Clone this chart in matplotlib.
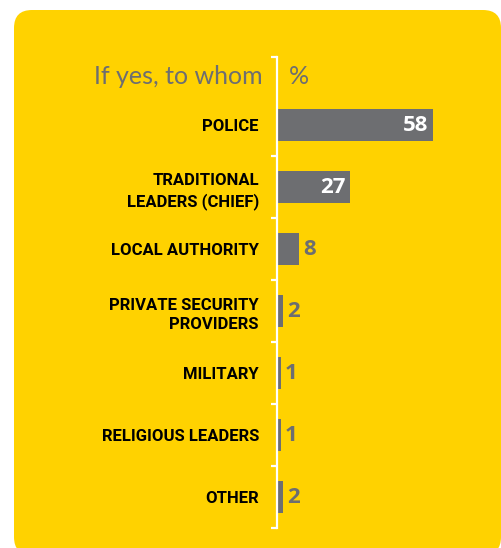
import matplotlib.pyplot as plt
from matplotlib.patches import FancyBboxPatch
import numpy as np

categories = ["POLICE", "TRADITIONAL\nLEADERS (CHIEF)", "LOCAL AUTHORITY",
              "PRIVATE SECURITY\nPROVIDERS", "MILITARY", "RELIGIOUS LEADERS", "OTHER"]
values = [58, 27, 8, 2, 1, 1, 2]
header_left = "If yes, to whom"
header_right = "%"

yellow = "#ffd200"
grey = "#6d6e71"
W, H = 501, 548

fig = plt.figure(figsize=(W / 100, H / 100), dpi=100)
fig.patch.set_facecolor("white")

# rounded yellow panel, drawn in pixel coordinates
bg = fig.add_axes([0, 0, 1, 1])
bg.set_xlim(0, W)
bg.set_ylim(H, 0)
bg.axis("off")
bg.add_patch(FancyBboxPatch((14, 10), 487, 545, boxstyle="round,pad=0,rounding_size=18",
                            facecolor=yellow, edgecolor="none"))

# bar axes: left spine at x=277px, top 57px, bottom 528px
left, top, bottom, right = 277, 57, 528, 490
ax = fig.add_axes([left / W, 1 - bottom / H, (right - left) / W, (bottom - top) / H])
ax.set_facecolor("none")
n = len(categories)
y = np.arange(n)
ax.barh(y, values, height=0.52, color=grey, left=0.4)
ax.set_xlim(0, (right - left) / 2.67)
ax.set_ylim(n - 0.5, -1.1)

for s in ["top", "right", "bottom"]:
    ax.spines[s].set_visible(False)
ax.spines["left"].set_color("white")
ax.spines["left"].set_linewidth(1.6)
ax.set_xticks([])
ax.set_yticks(y)
ax.set_yticklabels(categories, fontsize=12, fontweight="bold",
                   family=["Roboto", "DejaVu Sans"], linespacing=1.35)
ax.tick_params(axis="y", which="major", length=0, pad=13)
ax.set_yticks(list(np.arange(0.5, n, 1.0)) + [-1.1], minor=True)
ax.tick_params(axis="y", which="minor", length=4, width=1.6, color="white", direction="out")

for i, v in enumerate(values):
    if v > 20:
        ax.text(v + 0.4 - 1.8, i, str(v), ha="right", va="center", color="white",
                fontsize=16, fontweight="bold", family=["Open Sans", "DejaVu Sans"])
    else:
        ax.text(v + 0.4 + 1.5, i, str(v), ha="left", va="center", color=grey,
                fontsize=16, fontweight="bold", family=["Open Sans", "DejaVu Sans"])

bg.text(263, 77, header_left, ha="right", va="center", color=grey, fontsize=18,
        family=["Lato", "DejaVu Sans"])
bg.text(289, 77, header_right, ha="left", va="center", color=grey, fontsize=18,
        family=["Lato", "DejaVu Sans"])

fig.savefig("out.png", dpi=100, facecolor=fig.get_facecolor())
